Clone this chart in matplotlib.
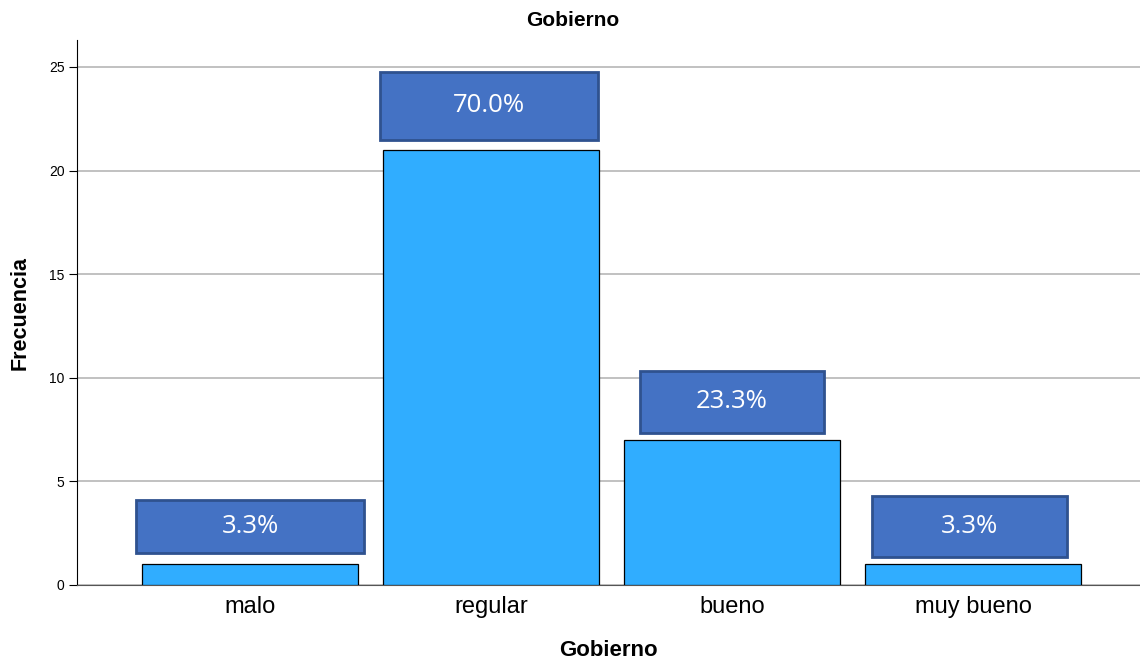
import matplotlib
matplotlib.use("Agg")
import matplotlib.pyplot as plt
from matplotlib.patches import Rectangle

# data
categorias = ["malo", "regular", "bueno", "muy bueno"]
frecuencias = [1, 21, 7, 1]
porcentajes = ["3.3%", "70.0%", "23.3%", "3.3%"]

# label box layout (data units)
caja_ancho = [0.946, 0.905, 0.763, 0.81]
caja_alto = [2.56, 3.28, 2.99, 2.94]
caja_gap = [0.54, 0.48, 0.34, 0.35]
caja_dx = [0.0, -0.01, 0.0, -0.015]

plt.rcParams["font.family"] = ["Liberation Sans", "DejaVu Sans"]

fig = plt.figure(figsize=(11.4, 6.62), dpi=100)
ax = fig.add_axes([77 / 1140, 77 / 662, 1 - 77 / 1140, (585 - 40) / 662])

x = list(range(len(categorias)))
ax.bar(x, frecuencias, width=0.896, color="#30adff", edgecolor="black",
       linewidth=0.9, zorder=3)

for i, (f, p) in enumerate(zip(frecuencias, porcentajes)):
    y0 = f + caja_gap[i]
    cx = i + caja_dx[i]
    ax.add_patch(Rectangle((cx - caja_ancho[i] / 2, y0), caja_ancho[i], caja_alto[i],
                           facecolor="#4472c4", edgecolor="#2f528f", linewidth=2, zorder=4))
    ax.text(cx, y0 + caja_alto[i] / 2, p, ha="center", va="center", color="white",
            fontsize=18.5, family=["Open Sans", "DejaVu Sans"], zorder=5)

ax.set_xlim(-0.718, 3.693)
ax.set_ylim(0, 26.3)
ax.set_yticks([0, 5, 10, 15, 20, 25])
ax.set_xticks(x)
ax.set_xticklabels(categorias, fontsize=17)
ax.tick_params(axis="y", labelsize=10, length=6, width=0.8, pad=3)
ax.tick_params(axis="x", length=0, pad=8)
ax.yaxis.grid(True, color="#b0b0b0", linewidth=1.1, zorder=0)

for s in ["top", "right"]:
    ax.spines[s].set_visible(False)
ax.spines["left"].set_color("black")
ax.spines["bottom"].set_color("#555555")

ax.set_ylabel("Frecuencia", fontsize=15.5, fontweight="bold", labelpad=13)
ax.set_xlabel("Gobierno", fontsize=16, fontweight="bold", labelpad=16)
fig.text(573 / 1140, 1 - 20 / 662, "Gobierno", ha="center", va="center",
         fontsize=15, fontweight="bold")

fig.savefig("out.png", dpi=100)
